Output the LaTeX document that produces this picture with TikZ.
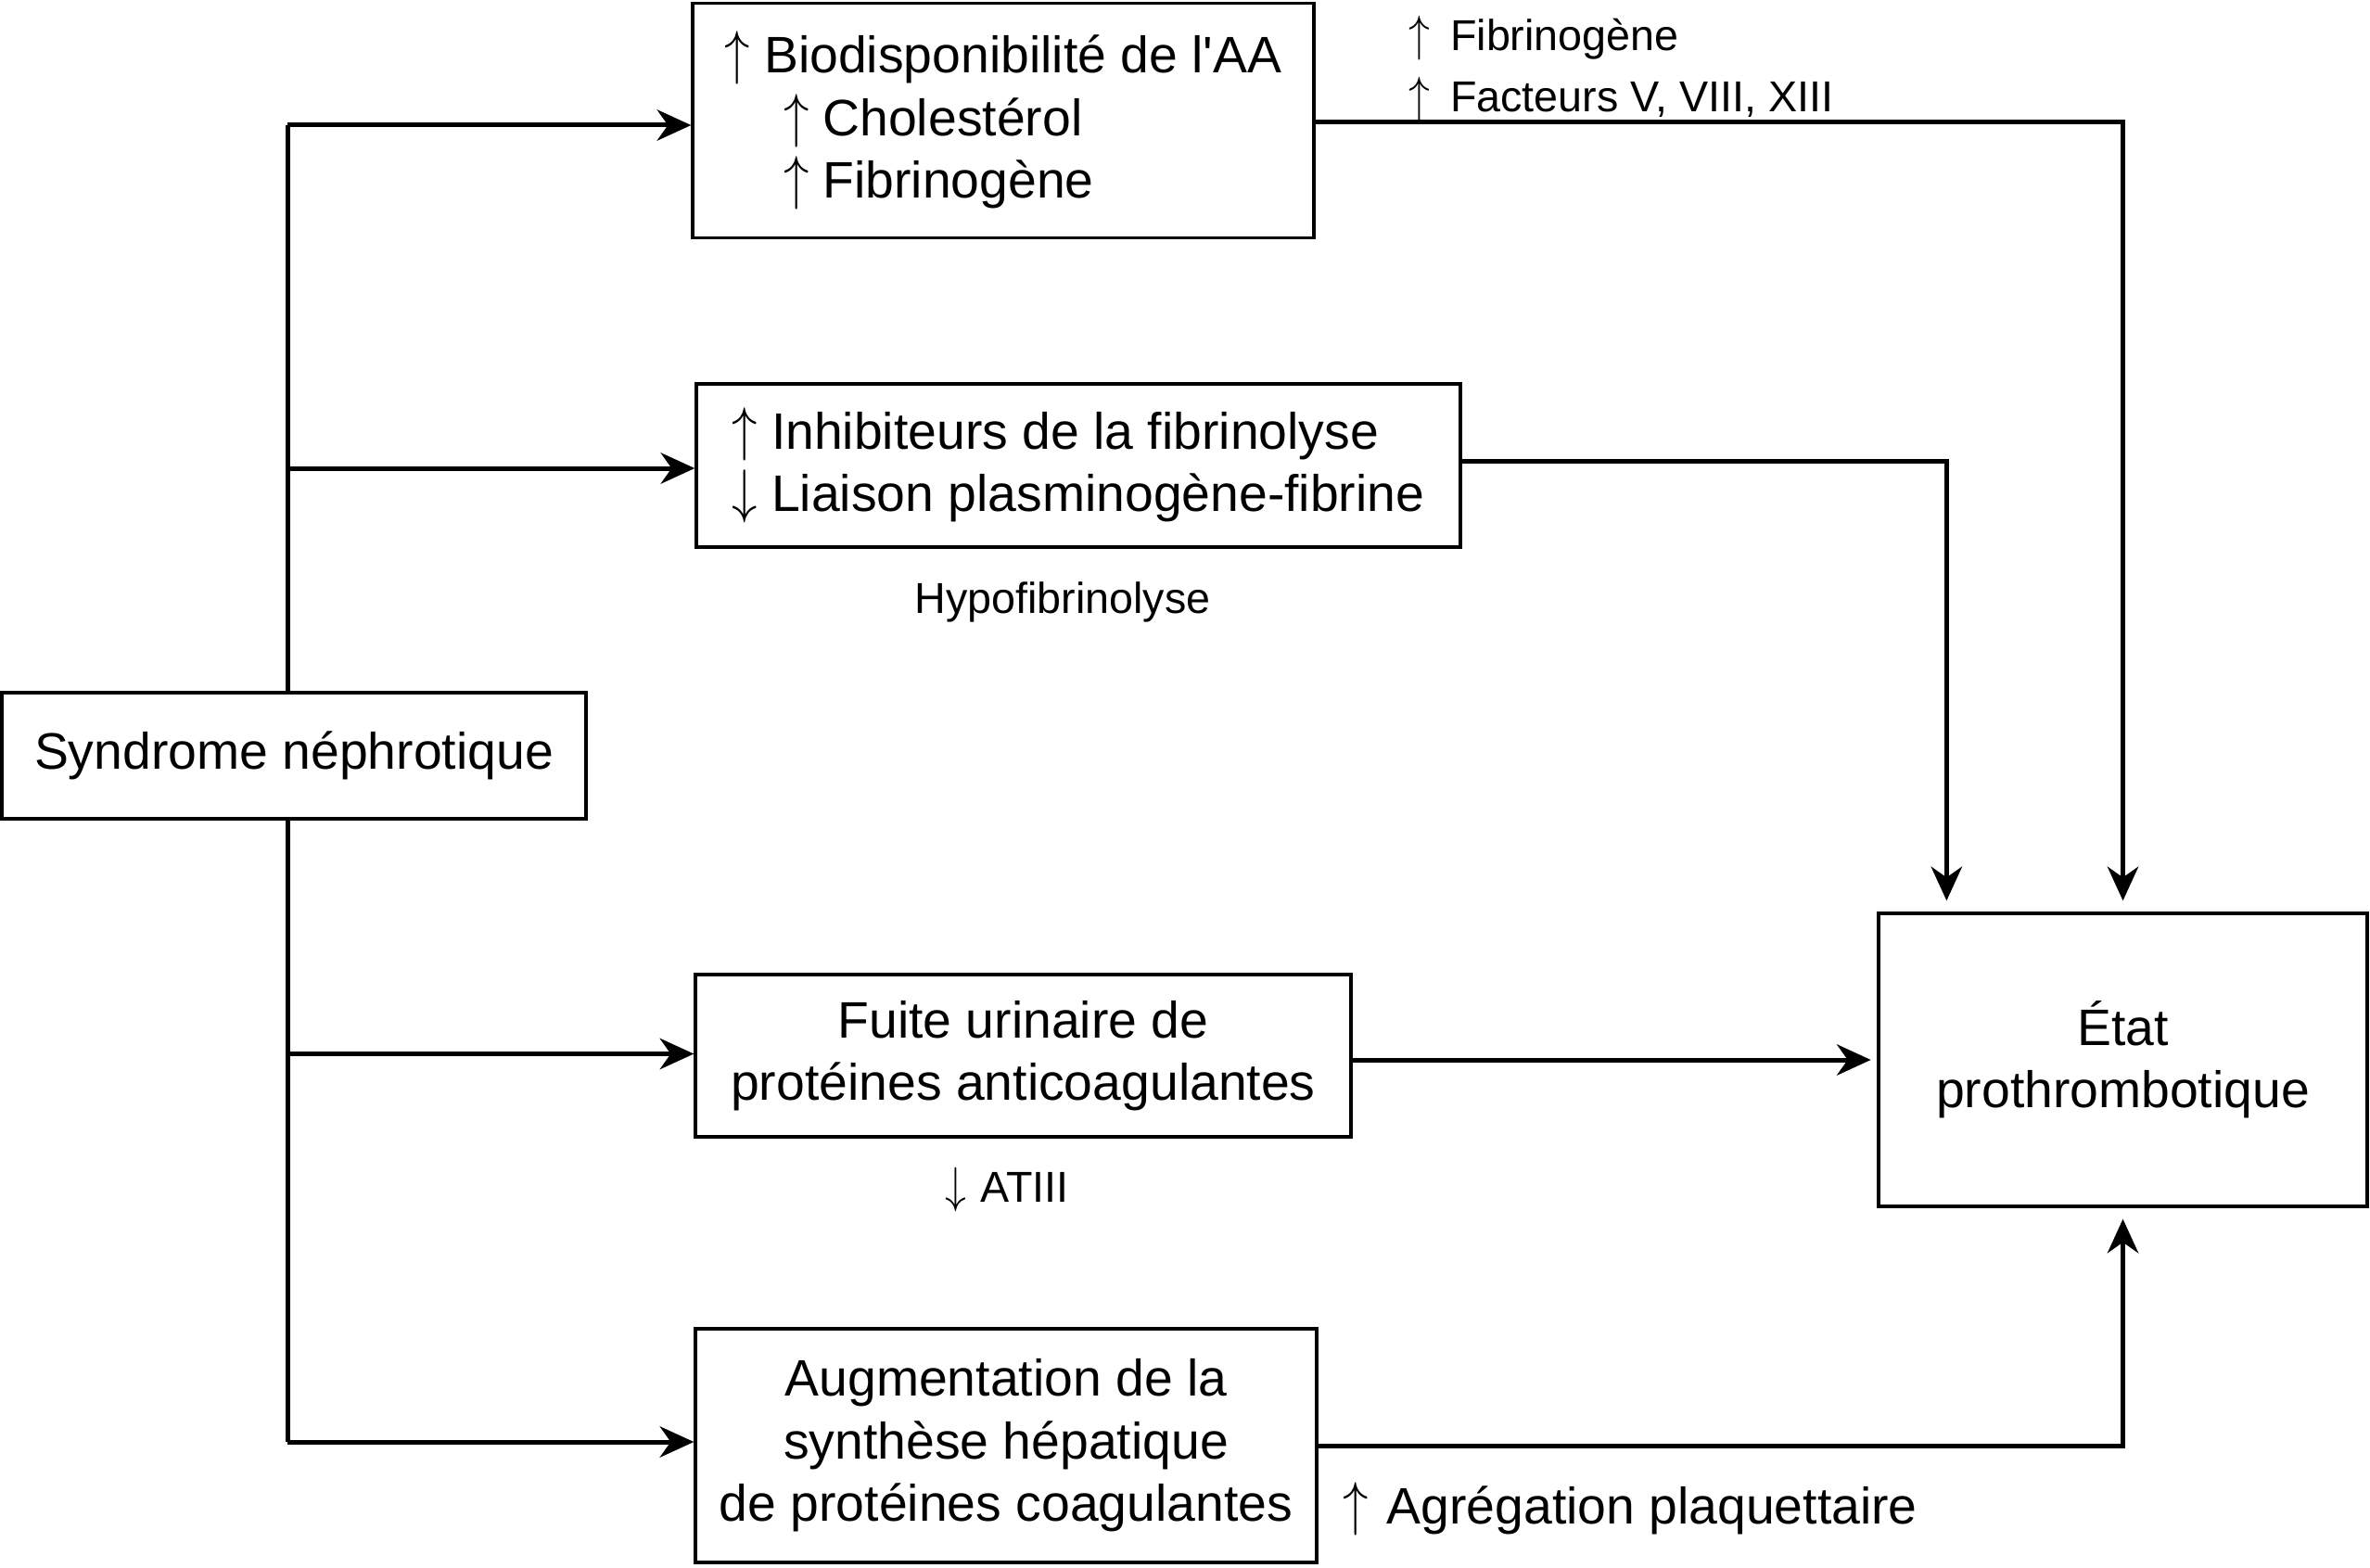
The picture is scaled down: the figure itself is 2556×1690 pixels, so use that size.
\documentclass[tikz,border=0pt]{standalone}
\usepackage{fontspec}
\setmainfont{Liberation Sans}
\usetikzlibrary{arrows.meta,calc}
\newcommand{\myup}[1][4.5pt]{\scalebox{0.95}[1.12]{$\uparrow$}\hspace{#1}}
\newcommand{\mydown}[1][4.5pt]{\scalebox{0.95}[1.12]{$\downarrow$}\hspace{#1}}
\begin{document}
\begin{tikzpicture}[x=0.3pt,y=-0.3pt,
  box/.style={draw,line width=1pt,inner sep=0pt,font=\fontsize{16.6}{20.2}\selectfont,align=center},
  bigtxt/.style={inner sep=0pt,font=\fontsize{16.6}{20}\selectfont,align=center},
  lbl/.style={inner sep=0pt,font=\fontsize{14}{20}\selectfont,align=left},
  conn/.style={line width=1.5pt,-{Stealth[length=11pt,width=10pt,inset=3.5pt]}},
  trunkline/.style={line width=1.5pt}]
\useasboundingbox (0,0) rectangle (2556,1690);
% boxes
\node[box,minimum width=201pt,minimum height=75.9pt,align=left] (b1) at (1082,130)
  {\myup Biodisponibilit\'e de l\textquotesingle AA\\\hspace*{19pt}\myup Cholest\'erol\\\hspace*{19pt}\myup Fibrinog\`ene};
\node[box,minimum width=247.2pt,minimum height=52.8pt,align=left] (b2) at (1163,502)
  {\myup Inhibiteurs de la fibrinolyse\\\mydown Liaison plasminog\`ene-fibrine};
\node[box,minimum width=189pt,minimum height=40.8pt] (syn) at (317,815) {Syndrome n\'ephrotique};
\node[box,minimum width=212.1pt,minimum height=52.5pt] (fuite) at (1103.5,1138.5)
  {Fuite urinaire de\\prot\'eines anticoagulantes};
\node[box,minimum width=201pt,minimum height=75.6pt] (aug) at (1085,1559)
  {Augmentation de la\\synth\`ese h\'epatique\\de prot\'eines coagulantes};
\node[box,minimum width=158.1pt,minimum height=94.8pt] (etat) at (2289.5,1143)
  {\'Etat\\prothrombotique};
% labels
\node[lbl,anchor=west] (l1) at (1519,74) {\myup[6.5pt]Fibrinog\`ene\\\myup[6.5pt]Facteurs V, VIII, XIII};
\node[lbl] (l2) at (1146,649) {Hypofibrinolyse};
\node[lbl] (l3) at (1086,1283) {\mydown[4.5pt]ATIII};
\node[bigtxt] (l4) at (1758,1627) {\myup[6pt]Agr\'egation plaquettaire};
% trunk
\coordinate (tk) at (310,0);
\coordinate (a1) at ($(b1.west)+(0,5)$);
\coordinate (a2) at ($(b2.west)+(0,3)$);
\coordinate (a3) at ($(fuite.west)+(0,-2)$);
\coordinate (a4) at ($(aug.west)+(0,-4)$);
\draw[trunkline] (syn.north -| tk) -- (a1 -| tk);
\draw[trunkline] (syn.south -| tk) -- (a4 -| tk);
\draw[conn] (a1 -| tk) -- (a1);
\draw[conn] (a2 -| tk) -- (a2);
\draw[conn] (a3 -| tk) -- (a3);
\draw[conn] (a4 -| tk) -- (a4);
% to etat
\coordinate (e2) at ($(etat.north west)+(75,0)$);
\coordinate (r1) at ($(b1.east)+(0,2)$);
\coordinate (r2) at ($(b2.east)+(0,-5)$);
\draw[conn,shorten >=3.6pt] (r1) -| (etat.north);
\draw[conn,shorten >=3.6pt] (r2) -| (e2);
\draw[conn,shorten >=2pt] (fuite.east |- etat.west) -- (etat.west);
\draw[conn,shorten >=3.6pt] (aug.east) -| (etat.south);
\end{tikzpicture}
\end{document}
